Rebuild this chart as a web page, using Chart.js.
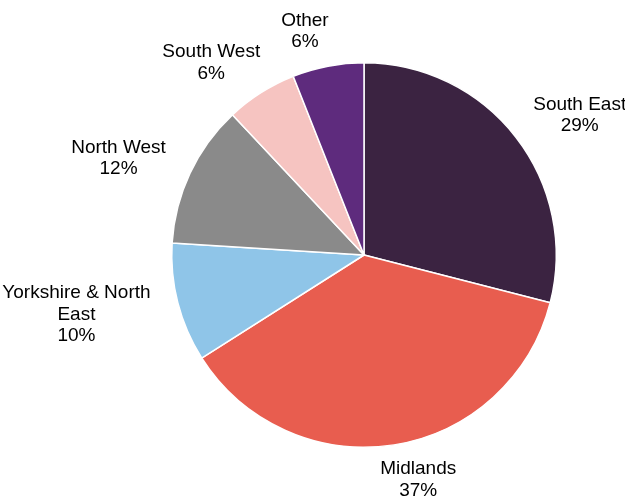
<!DOCTYPE html>
<html>
<head>
<meta charset="utf-8">
<script src="https://cdn.jsdelivr.net/npm/chart.js@4.4.1/dist/chart.umd.min.js"></script>
<style>
  html, body { margin: 0; padding: 0; background: #fff; }
  #wrap { width: 625px; height: 497px; }
</style>
</head>
<body>
<div id="wrap"><canvas id="myChart"></canvas></div>
<script>
const regions = ["South East", "Midlands", "Yorkshire & North East", "North West", "South West", "Other"];
const labelLines = [["South East"], ["Midlands"], ["Yorkshire & North", "East"], ["North West"], ["South West"], ["Other"]];
const shares = [29, 37, 10, 12, 6, 6];
const colors = ["#3B2341", "#E85D4F", "#8FC5E8", "#8A8A8A", "#F6C4C1", "#5E2B7D"];

const FONT = '19px "Liberation Sans", Arial, sans-serif';
const LINE_H = 21.5;

// draws "name / xx%" outside each slice, like the office-style labels
const outsideLabels = {
  id: "outsideLabels",
  afterDatasetsDraw(chart) {
    const ctx = chart.ctx;
    const meta = chart.getDatasetMeta(0);
    ctx.save();
    ctx.font = FONT;
    ctx.fillStyle = "#000";
    ctx.textAlign = "center";
    ctx.textBaseline = "middle";
    meta.data.forEach((arc, i) => {
      const p = arc.getProps(["x", "y", "startAngle", "endAngle", "outerRadius"], true);
      const mid = (p.startAngle + p.endAngle) / 2;
      const dx = Math.cos(mid);
      const dy = Math.sin(mid);
      const lines = labelLines[i].concat([shares[i] + "%"]);
      let w = 0;
      lines.forEach((l) => { w = Math.max(w, ctx.measureText(l).width); });
      const h = lines.length * LINE_H;
      const r = p.outerRadius + 14;
      const cx = p.x + dx * r + dx * w / 2 + Math.sign(dx) * 16;
      const cy = p.y + dy * r + dy * h / 2;
      lines.forEach((l, k) => {
        ctx.fillText(l, cx, cy - h / 2 + LINE_H / 2 + k * LINE_H);
      });
    });
    ctx.restore();
  },
};

new Chart(document.getElementById("myChart"), {
  type: "pie",
  data: {
    labels: regions,
    datasets: [{
      data: shares,
      backgroundColor: colors,
      borderColor: "#ffffff",
      borderWidth: 1.5,
    }],
  },
  options: {
    responsive: true,
    maintainAspectRatio: false,
    animation: false,
    layout: { padding: { left: 171, right: 68, top: 62, bottom: 49 } },
    plugins: {
      legend: { display: false },
      tooltip: { enabled: false },
      title: { display: false },
    },
  },
  plugins: [outsideLabels],
});
</script>
</body>
</html>
